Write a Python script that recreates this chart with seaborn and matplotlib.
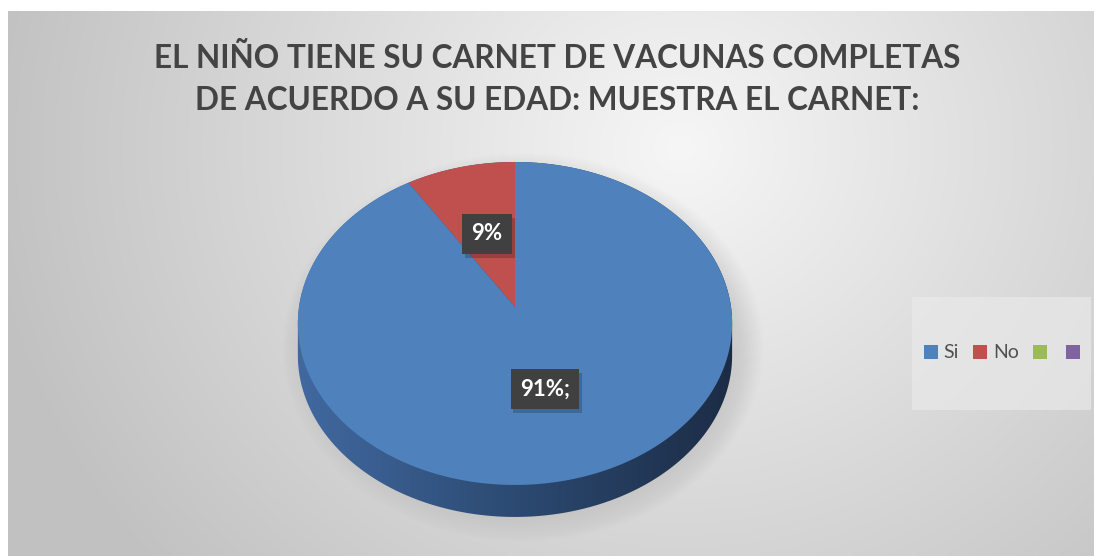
import numpy as np
import matplotlib
matplotlib.use("Agg")
import matplotlib.pyplot as plt
import matplotlib.patches as mpatches
import matplotlib.transforms as mtransforms
import matplotlib.patheffects as pe
from matplotlib.path import Path
from matplotlib.colors import LinearSegmentedColormap
import seaborn as sns

# ---- data ----
categories = ["Si", "No", "", ""]
values = [91, 9]
label_texts = ["91%;", "9%"]
title_lines = ["EL NIÑO TIENE SU CARNET DE VACUNAS COMPLETAS",
               "DE ACUERDO A SU EDAD: MUESTRA EL CARNET:"]

sns.set_theme(style="white")
plt.rcParams['font.family'] = ['Lato', 'DejaVu Sans']

palette = sns.color_palette(["#4F81BD", "#C0504D", "#9BBB59", "#8064A2"])

W, H = 1094, 556
fig = plt.figure(figsize=(W / 100, H / 100), dpi=100)
fig.patch.set_facecolor("white")

# background gradient
bg = fig.add_axes([8 / W, 0, 1086 / W, 545 / H])
yy, xx = np.mgrid[0:1:200j, 0:1:400j]
d = np.sqrt(((xx - 0.62) * 1.0) ** 2 + ((yy - 0.25) * 0.55) ** 2)
img = np.clip(0.965 - 0.32 * d, 0.76, 1.0)
bg.imshow(np.dstack([img, img, img]), aspect="auto", extent=[0, 1, 0, 1], origin="upper")
bg.set_axis_off()

# perspective projection of the pie disc (pixel units relative to pie centre)
CX, CY = 515, 307          # projected pie centre (pixels from top-left)
RXP, RYP, KP = 216.0, 159.8, 0.102
DEPTH = 32.0


class Persp(mtransforms.Transform):
    input_dims = 2
    output_dims = 2
    is_separable = False

    def __init__(self, off=0.0):
        super().__init__()
        self.off = off

    def transform_non_affine(self, xy):
        xy = np.asarray(xy, dtype=float)
        u, v = xy[:, 0], xy[:, 1]
        s = 1.0 / (1.0 + KP * v)
        return np.column_stack([RXP * u * s, RYP * v * s - self.off])

    def transform_path_non_affine(self, path):
        pts = []
        for seg, code in path.iter_bezier():
            if seg.degree < 1:
                pts.append(np.atleast_2d(seg.control_points))
            else:
                t = np.linspace(0, 1, 40)
                pts.append(seg(t))
        verts = np.concatenate(pts)
        return Path(self.transform_non_affine(verts), closed=False)


ax_l, ax_r, ax_t, ax_b = 250, 780, 130, 550
ax = fig.add_axes([ax_l / W, 1 - ax_b / H, (ax_r - ax_l) / W, (ax_b - ax_t) / H])
ax.patch.set_alpha(0)

# soft shadow under the pie
for k in range(14):
    sh = mpatches.Ellipse((8, -40), 2 * (214 + k * 2.0), 2 * (168 + k * 2.0),
                          facecolor="#7a7a7a", edgecolor="none", alpha=0.012, zorder=0)
    ax.add_patch(sh)

# side of the cylinder (gradient clipped to hull of top and bottom faces)
th = np.linspace(0, 2 * np.pi, 400)
circ = np.column_stack([np.cos(th), np.sin(th)])
top_pts = Persp(0).transform_non_affine(circ)
bot_pts = Persp(DEPTH).transform_non_affine(circ)
allp = np.concatenate([top_pts, bot_pts])


def hull(points):
    p = sorted(map(tuple, points))
    def cross(o, a, b):
        return (a[0] - o[0]) * (b[1] - o[1]) - (a[1] - o[1]) * (b[0] - o[0])
    lower, upper = [], []
    for q in p:
        while len(lower) >= 2 and cross(lower[-2], lower[-1], q) <= 0:
            lower.pop()
        lower.append(q)
    for q in reversed(p):
        while len(upper) >= 2 and cross(upper[-2], upper[-1], q) <= 0:
            upper.pop()
        upper.append(q)
    return np.array(lower[:-1] + upper[:-1])


side_poly = mpatches.Polygon(hull(allp), closed=True, facecolor="none", edgecolor="none",
                             transform=ax.transData)
ax.add_patch(side_poly)
side_cmap = LinearSegmentedColormap.from_list("side", ["#4169A0", "#2C4A72", "#1C2C45"])
grad = np.linspace(0, 1, 256)[None, :]
im = ax.imshow(grad, cmap=side_cmap, aspect="auto",
               extent=[-RXP - 2, RXP + 2, -220, 170], origin="lower", zorder=1)
im.set_clip_path(side_poly)

# top face: the pie
wedges, _ = ax.pie(values[::-1], colors=[palette[1], palette[0]], startangle=90,
                   wedgeprops=dict(linewidth=0))
for w in wedges:
    w.set_transform(Persp(0) + ax.transData)
    w.set_zorder(2)

ax.set_aspect("auto")
ax.set_xlim(ax_l - CX, ax_r - CX)
ax.set_ylim(-(ax_b - CY), CY - ax_t)
ax.set_axis_off()

# data labels
label_pos = [(545 - CX, CY - 389), (487 - CX, CY - 234)]
for txt, (lx, ly) in zip(label_texts, label_pos):
    t = ax.text(lx, ly, txt, ha="center", va="center", color="white", fontsize=16,
                fontweight="bold", zorder=4,
                bbox=dict(boxstyle="square,pad=0.42", facecolor="#404040", edgecolor="none"))
    t.get_bbox_patch().set_path_effects([
        pe.SimplePatchShadow(offset=(2, -3), shadow_rgbFace="black", alpha=0.2),
        pe.Normal()])

# title
fig.text(557 / W, 1 - 58 / H, title_lines[0], ha="center", va="center",
         fontsize=22.7, fontweight="bold", color="#444444")
fig.text(557 / W, 1 - 100 / H, title_lines[1], ha="center", va="center",
         fontsize=22.7, fontweight="bold", color="#444444")

# legend frame
fig.patches.append(mpatches.Rectangle((912 / W, 1 - 410 / H), 179 / W, 113 / H,
                                      transform=fig.transFigure, facecolor="#e9e9e9",
                                      edgecolor="none", alpha=0.7, zorder=1))
handles = [mpatches.Patch(facecolor=palette[i], edgecolor="none") for i in range(4)]
leg = fig.legend(handles, categories, loc="center", bbox_to_anchor=(1005 / W, 1 - 353 / H),
                 ncol=4, frameon=False, fontsize=14, handlelength=0.72, handleheight=0.72,
                 handletextpad=0.3, columnspacing=0.72, labelcolor="#505050")

fig.savefig("out.png", dpi=100)
